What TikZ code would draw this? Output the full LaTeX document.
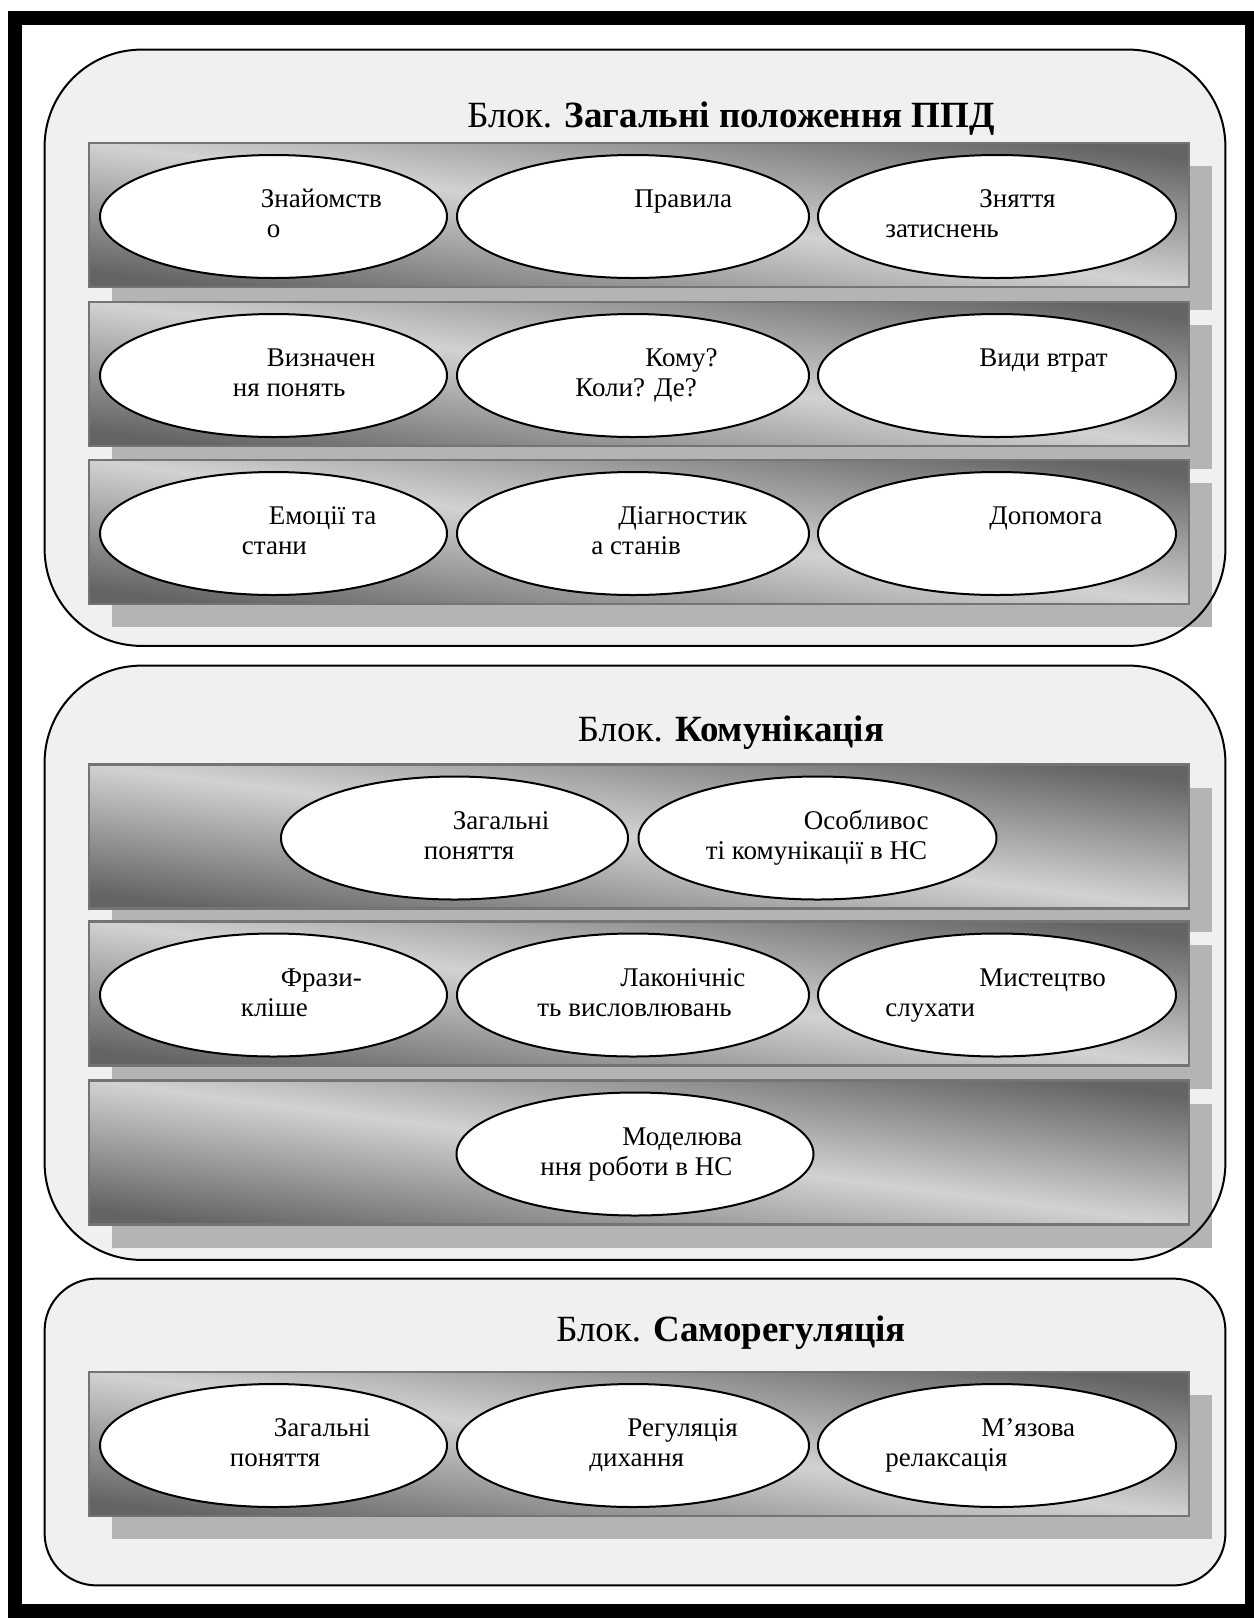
\documentclass[tikz,border=0pt]{standalone}
\usepackage{fontspec}
\setmainfont{Liberation Serif}
\usepackage{tikz}
\usetikzlibrary{positioning,shapes.geometric,shadows}
\definecolor{blockgray}{HTML}{F0F0F0}
\definecolor{shadowgray}{HTML}{B4B4B4}
\definecolor{banddark}{HTML}{646464}
\definecolor{bandlight}{HTML}{D2D2D2}
\definecolor{bandline}{HTML}{747474}
\pgfdeclarehorizontalshading{bandshade}{100bp}{color(0bp)=(banddark); color(25bp)=(banddark); color(50bp)=(bandlight); color(75bp)=(banddark); color(100bp)=(banddark)}
\tikzset{
  block/.style = {rectangle,fill=blockgray,minimum width=590pt,inner sep=0},
  blockline/.style = {draw=black,line width=1pt},
  band/.style = {rectangle,shading=bandshade,shading angle=82.5,draw=bandline,line width=1.2pt,
    minimum width=550pt,minimum height=72pt,inner sep=0,
    drop shadow={shadow xshift=11.5pt,shadow yshift=-11.5pt,fill=shadowgray,opacity=1}},
  oval/.style = {ellipse,draw,fill=white,line width=1pt,minimum height=61.5pt,inner sep=0},
  lbl/.style = {anchor=base west,inner sep=0,font=\fontsize{13.5}{15}\selectfont},
  title/.style = {anchor=base,inner sep=0,font=\fontsize{18.5}{20}\selectfont}
}

\begin{document}
\begin{tikzpicture}[x=0.5pt,y=-0.5pt]
    \useasboundingbox (0,0) rectangle (1254,1619);
    \fill[white] (0,0) rectangle (1254,1619);
    \draw[line width=7pt] (14.5,18) rectangle (1251.5,1611);

    % blocks
    \node[block,rounded corners=48.5pt,minimum height=297.75pt] (blk1) at (635,347.75) {};
    \node[block,rounded corners=48.5pt,minimum height=296.75pt] (blk2) at (635,962.75) {};
    \node[block,rounded corners=26pt,minimum height=153pt] (blk3) at (635,1432) {};
    \node[title] (tt1) at (731,127) {Блок. \textbf{Загальні положення ППД}};
    \node[title] (tt2) at (731,741) {Блок. \textbf{Комунікація}};
    \node[title] (tt3) at (731,1341) {Блок. \textbf{Саморегуляція}};

    % bands
    \foreach \r/\y in {1/215,2/374,3/532,4/836.5,5/993.5,6/1152.5,7/1444}
        \node[band] (band\r) at (639,\y) {};

    % ovals
    \foreach \r/\y in {1/216.5,2/375.5,3/533.5,5/995,7/1445.5} {
        \node[oval,minimum width=173.5pt] (e\r1) at (273.5,\y) {};
        \node[oval,minimum width=176pt] (e\r2) at (633,\y) {};
        \node[oval,minimum width=179pt] (e\r3) at (997,\y) {};
    }
    \node[oval,minimum width=173.5pt] (e41) at (454.5,838) {};
    \node[oval,minimum width=179pt] (e42) at (817.5,838) {};
    \node[oval,minimum width=178.5pt] (e61) at (635,1154) {};

    % texts
    \foreach \e/\n/\dx/\dy/\txt in {
        e11/a/-13/-9/Знайомств, e11/b/-7/21/о,
        e12/a/1/-9/Правила,
        e13/a/-18/-9/Зняття, e13/b/-112/21/затиснень,
        e21/a/-7/-9/Визначен, e21/b/-41/21/ня понять,
        e22/a/12/-9/Кому?, e22/b/-58/21/Коли? Де?,
        e23/a/-18/-9/Види втрат,
        e31/a/-5/-9/Емоції та, e31/b/-32/21/стани,
        e32/a/-15/-9/Діагностик, e32/b/-42/21/а станів,
        e33/a/-8/-9/Допомога,
        e41/a/-2/-9/Загальні, e41/b/-31/21/поняття,
        e42/a/-14/-9/Особливос, e42/b/-112/21/ті комунікації в НС,
        e51/a/7/-9/Фрази-, e51/b/-33/21/кліше,
        e52/a/-13/-9/Лаконічніс, e52/b/-96/21/ть висловлювань,
        e53/a/-18/-9/Мистецтво, e53/b/-112/21/слухати,
        e61/a/-13/-9/Моделюва, e61/b/-95/21/ння роботи в НС,
        e71/a/0/-9/Загальні, e71/b/-44/21/поняття,
        e72/a/-6/-9/Регуляція, e72/b/-44/21/дихання,
        e73/a/-16/-9/М’язова, e73/b/-112/21/релаксація}
        \node[lbl] (\e\n) at ([shift={(\dx,\dy)}]\e.center) {\txt};

    % block outlines on top
    \foreach \b/\rad in {blk1/48.5pt,blk2/48.5pt,blk3/26pt}
        \draw[blockline,rounded corners=\rad] (\b.north west) rectangle (\b.south east);
\end{tikzpicture}
\end{document}
